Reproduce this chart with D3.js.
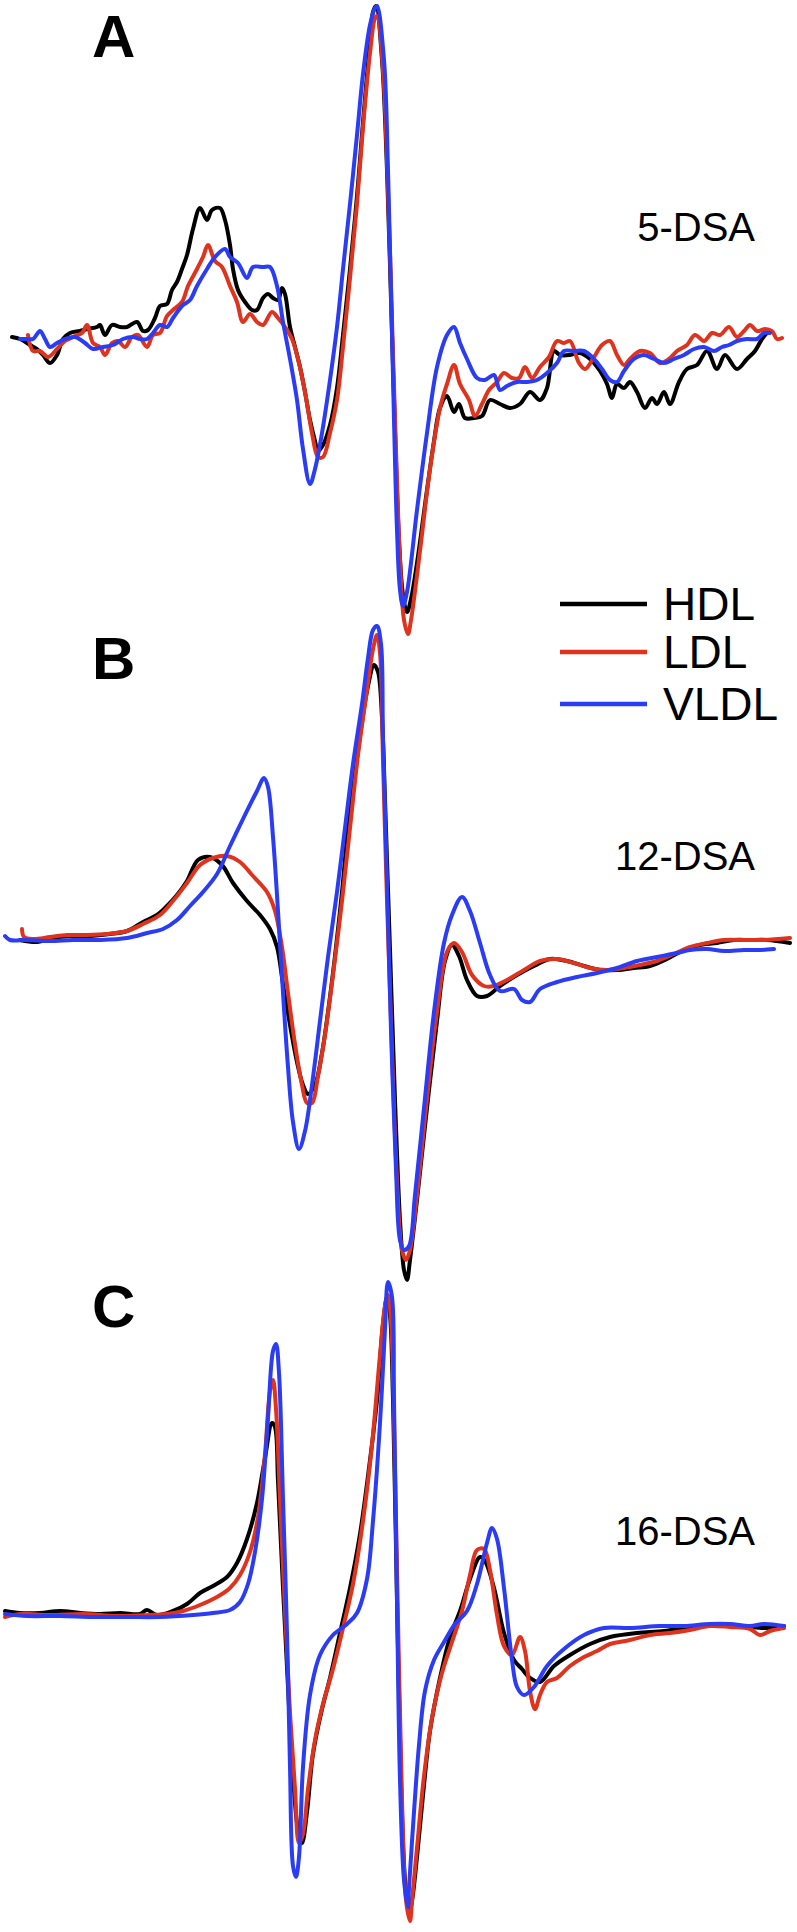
<!DOCTYPE html>
<html>
<head>
<meta charset="utf-8">
<script src="https://cdn.jsdelivr.net/npm/d3@7"></script>
<style>
  body { margin: 0; background: #fff; }
  svg { display: block; }
</style>
</head>
<body>
<div id="chart"></div>
<script>
// EPR spectra, [field channel, amplitude a.u.]
const hdl5 = [[12,0],[20,-2],[30,-8],[37,-12],[43,-18],[50,-26],[57,-18],[63,-2],[70,4],[80,6],[87,8],[97,10],[100,12],[105,2],[112,12],[120,10],[127,10],[137,15],[143,6],[148,7],[155,19],[160,31],[167,33],[172,47],[177,55],[182,68],[187,82],[193,108],[200,129],[207,117],[212,127],[220,129],[225,117],[230,92],[233,68],[238,47],[245,35],[252,27],[257,27],[263,39],[268,43],[273,39],[278,37],[282,49],[285,43],[290,10],[295,-10],[300,-30],[305,-55],[310,-83],[315,-104],[318,-114],[323,-108],[330,-88],[337,-51],[343,2],[350,68],[357,141],[363,215],[370,296],[373,325],[376,331],[382,277],[387,167],[391,37],[395,-93],[399,-203],[403,-258],[407,-275],[411,-262],[417,-226],[427,-153],[434,-104],[440,-71],[447,-59],[454,-75],[459,-67],[465,-81],[474,-81],[482,-79],[490,-63],[500,-67],[510,-71],[520,-67],[530,-55],[540,-63],[547,-51],[554,-14],[560,-18],[570,-18],[580,-16],[590,-22],[600,-34],[607,-47],[612,-61],[617,-47],[624,-51],[630,-45],[637,-55],[645,-71],[652,-61],[657,-67],[664,-55],[670,-67],[679,-45],[687,-32],[697,-28],[707,-14],[717,-32],[725,-18],[737,-32],[747,-22],[755,-14],[762,-2],[767,4]]
const ldl5 = [[28,2],[33,-14],[40,-14],[48,-20],[57,-12],[65,-4],[73,0],[82,4],[87,12],[93,-6],[100,-10],[105,-18],[112,-6],[118,-4],[125,-10],[132,0],[138,2],[147,-10],[153,2],[160,4],[167,21],[173,27],[182,35],[188,51],[197,68],[203,80],[208,92],[215,76],[222,70],[230,51],[237,35],[243,15],[250,23],[257,15],[263,12],[272,25],[278,19],[285,10],[292,-2],[298,-22],[305,-55],[312,-96],[318,-120],[323,-120],[330,-96],[337,-63],[343,-10],[350,59],[357,133],[363,210],[370,284],[375,319],[377,321],[383,267],[388,147],[392,17],[396,-113],[400,-223],[404,-283],[408,-297],[411,-283],[420,-214],[430,-132],[440,-71],[447,-47],[454,-28],[460,-47],[469,-63],[475,-79],[482,-67],[489,-53],[497,-45],[504,-36],[512,-41],[519,-41],[525,-30],[532,-41],[540,-30],[549,-20],[557,-4],[564,-6],[570,-4],[579,-26],[585,-32],[594,-20],[602,-8],[610,-4],[617,-18],[624,-28],[630,-22],[640,-14],[650,-16],[660,-26],[669,-22],[677,-14],[687,-8],[695,2],[704,-4],[712,4],[720,2],[729,10],[737,0],[744,6],[750,12],[757,6],[765,8],[772,6],[777,-2],[782,-1]]
const vldl5 = [[20,-2],[27,-2],[33,-2],[40,6],[45,-2],[50,-10],[57,-6],[65,-2],[75,0],[85,-6],[93,-12],[103,-10],[113,-8],[123,-2],[133,0],[140,-2],[147,-2],[153,4],[160,12],[167,10],[173,19],[182,31],[190,37],[197,51],[207,68],[215,80],[225,88],[230,80],[238,74],[247,59],[253,70],[263,70],[270,70],[277,51],[283,15],[290,-22],[297,-63],[303,-112],[310,-147],[315,-132],[322,-96],[330,-43],[337,10],[343,68],[350,133],[357,202],[363,263],[370,312],[375,329],[377,331],[384,277],[388,167],[391,47],[394,-83],[397,-193],[400,-253],[403,-269],[407,-255],[417,-173],[427,-96],[437,-30],[447,2],[454,10],[460,-6],[467,-22],[477,-41],[485,-43],[494,-38],[500,-53],[507,-49],[517,-45],[527,-45],[537,-43],[547,-36],[557,-26],[564,-14],[574,-14],[584,-14],[594,-22],[602,-32],[610,-43],[617,-45],[624,-34],[634,-22],[644,-18],[654,-22],[664,-26],[674,-22],[684,-18],[694,-12],[704,-10],[714,-14],[722,-10],[729,-8],[737,-4],[747,-2],[757,-2],[764,4],[770,4]]

const hdl12 = [[20,0],[37,-2],[53,2],[70,4],[90,4],[110,6],[127,9],[143,18],[157,25],[167,34],[177,45],[187,59],[198,80],[210,83],[222,75],[233,57],[247,39],[260,25],[270,11],[277,-7],[283,-44],[290,-85],[297,-122],[303,-145],[308,-154],[315,-145],[322,-113],[328,-72],[335,-16],[342,48],[348,112],[355,167],[362,218],[368,254],[374,275],[378,268],[382,222],[385,140],[390,-10],[395,-160],[400,-280],[404,-330],[407,-340],[410,-320],[417,-260],[427,-168],[437,-81],[445,-21],[452,-5],[459,-16],[467,-40],[477,-56],[487,-56],[500,-46],[517,-35],[534,-26],[550,-19],[567,-21],[584,-26],[600,-30],[617,-30],[634,-28],[650,-26],[667,-19],[684,-10],[700,-5],[717,-3],[734,0],[750,0],[767,0],[790,-3]]
const ldl12 = [[22,11],[24,3],[33,1],[50,3],[67,5],[87,5],[107,6],[127,9],[143,16],[160,25],[173,39],[187,57],[200,75],[213,82],[227,84],[240,78],[253,64],[267,48],[275,29],[282,-7],[288,-53],[295,-104],[302,-145],[307,-163],[312,-163],[318,-136],[325,-95],[333,-35],[342,39],[350,112],[358,185],[367,250],[373,291],[377,305],[380,287],[383,180],[387,40],[392,-110],[397,-240],[402,-310],[406,-320],[410,-310],[417,-255],[427,-159],[437,-72],[447,-12],[454,-3],[462,-12],[472,-35],[484,-46],[494,-46],[507,-40],[524,-30],[540,-21],[557,-19],[574,-23],[590,-28],[607,-30],[624,-28],[640,-25],[657,-21],[674,-14],[690,-7],[707,-3],[724,0],[744,0],[764,0],[790,2]]
const vldl12 = [[5,4],[10,0],[27,0],[50,-1],[73,0],[100,0],[127,2],[147,7],[163,11],[177,20],[190,34],[203,48],[217,66],[230,94],[243,121],[257,149],[264,162],[268,153],[273,103],[278,29],[283,-53],[288,-127],[293,-182],[299,-209],[305,-191],[312,-145],[320,-81],[328,-17],[337,48],[345,112],[353,176],[362,236],[368,282],[373,310],[377,314],[381,296],[383,200],[387,60],[391,-90],[396,-230],[400,-300],[404,-310],[409,-306],[415,-255],[424,-168],[434,-72],[444,-3],[452,25],[462,43],[470,29],[480,-3],[490,-35],[500,-51],[514,-49],[522,-60],[530,-62],[540,-49],[557,-42],[577,-37],[597,-33],[617,-28],[637,-21],[657,-17],[677,-13],[690,-10],[707,-9],[724,-11],[744,-10],[760,-10],[774,-9]]

const hdl16 = [[5,4],[20,2],[40,2],[60,4],[80,2],[100,1],[120,2],[140,1],[147,5],[157,0],[173,4],[187,11],[200,22],[213,29],[227,38],[237,52],[247,76],[257,112],[265,157],[272,192],[275,188],[278,134],[283,27],[288,-72],[293,-161],[298,-215],[302,-228],[307,-197],[313,-139],[322,-94],[330,-63],[340,-18],[350,27],[360,81],[368,139],[377,215],[383,291],[387,318],[390,300],[393,215],[397,15],[401,-165],[405,-265],[409,-298],[412,-286],[417,-242],[424,-170],[430,-116],[440,-63],[450,-22],[460,4],[470,36],[480,58],[485,54],[494,27],[504,-18],[514,-45],[522,-54],[530,-63],[540,-67],[554,-51],[570,-40],[590,-29],[610,-22],[637,-18],[664,-16],[690,-12],[717,-10],[744,-11],[764,-13],[784,-11]]
const ldl16 = [[5,-2],[20,1],[50,0],[83,1],[117,-1],[150,0],[167,1],[183,4],[200,10],[217,18],[230,27],[240,40],[250,63],[258,98],[265,161],[270,224],[273,235],[276,206],[280,116],[285,4],[290,-98],[295,-174],[299,-228],[303,-219],[308,-174],[315,-125],[323,-89],[333,-54],[343,-13],[353,31],[363,94],[372,170],[380,260],[385,309],[388,320],[391,295],[394,195],[398,-5],[402,-185],[406,-285],[410,-306],[412,-286],[417,-233],[424,-161],[432,-103],[442,-58],[452,-27],[462,4],[470,40],[477,65],[484,66],[490,45],[497,0],[504,-31],[512,-40],[520,-22],[525,-36],[530,-76],[535,-94],[540,-80],[547,-67],[557,-63],[570,-51],[584,-42],[597,-36],[610,-29],[630,-25],[650,-20],[670,-18],[690,-15],[710,-11],[730,-12],[750,-14],[760,-20],[770,-16],[784,-13]]
const vldl16 = [[5,1],[27,-1],[60,-1],[93,-2],[127,-2],[160,-2],[193,0],[213,2],[230,5],[240,13],[248,31],[255,63],[262,116],[268,197],[273,264],[276,271],[279,242],[283,116],[287,-18],[290,-152],[293,-251],[296,-262],[299,-242],[303,-152],[310,-80],[320,-40],[333,-20],[347,-9],[357,2],[367,36],[373,94],[380,192],[385,286],[388,333],[392,318],[394,215],[397,15],[400,-165],[404,-265],[408,-292],[409,-273],[414,-197],[419,-130],[425,-76],[434,-45],[444,-27],[455,-9],[467,4],[477,31],[487,72],[492,87],[497,76],[504,27],[512,-45],[517,-72],[524,-80],[534,-72],[547,-51],[564,-34],[584,-20],[604,-13],[630,-13],[660,-11],[684,-11],[710,-9],[730,-9],[750,-11],[764,-9],[784,-11]]

const seriesNames = ['HDL', 'LDL', 'VLDL']
const seriesColors = ['#000000', '#e0331d', '#2a3cf6']
const panelLetters = ['A', 'B', 'C']
const probes = ['5-DSA', '12-DSA', '16-DSA']
const spectra = [[hdl5, ldl5, vldl5], [hdl12, ldl12, vldl12], [hdl16, ldl16, vldl16]]

const config = {
    width: 797,
    height: 1932,
    baselines: [337, 940, 1615],
    letterY: [57, 679, 1327],
    probeY: [241, 870, 1545],
    letterX: 92,
    probeRight: 755,
    lineWidth: 4,
}

const svg = d3.select('#chart')
    .append('svg')
    .attr('width', config.width)
    .attr('height', config.height)
    .attr('viewBox', `0 0 ${config.width} ${config.height}`)

const scaleX = d3.scaleLinear()
    .domain([0, 797])
    .range([0, config.width])

const color = d3.scaleOrdinal()
    .domain(seriesNames)
    .range(seriesColors)

spectra.forEach((panel, i) => {
    const base = config.baselines[i]
    const scaleY = d3.scaleLinear()
        .domain([0, 100])
        .range([base, base - 100])

    const line = d3.line()
        .x(d => scaleX(d[0]))
        .y(d => scaleY(d[1]))
        .curve(d3.curveCatmullRom.alpha(0.5))

    const g = svg.append('g')

    g.selectAll('path')
        .data(panel)
        .enter()
        .append('path')
        .attr('d', d => line(d))
        .attr('fill', 'none')
        .attr('stroke', (d, k) => color(seriesNames[k]))
        .attr('stroke-width', config.lineWidth)
        .attr('stroke-linejoin', 'round')
        .attr('stroke-linecap', 'round')

    g.append('text')
        .attr('x', config.letterX)
        .attr('y', config.letterY[i])
        .attr('font-family', '"Liberation Sans", Arial, sans-serif')
        .attr('font-weight', 'bold')
        .attr('font-size', '60px')
        .text(panelLetters[i])

    g.append('text')
        .attr('x', config.probeRight)
        .attr('y', config.probeY[i])
        .attr('text-anchor', 'end')
        .attr('font-family', '"Liberation Sans", Arial, sans-serif')
        .attr('font-size', '40px')
        .text(probes[i])
})

// legend
const legendY = [604, 652, 704]
const legend = svg.append('g')
seriesNames.forEach((name, k) => {
    legend.append('line')
        .attr('x1', 560)
        .attr('x2', 647)
        .attr('y1', legendY[k])
        .attr('y2', legendY[k])
        .attr('stroke', color(name))
        .attr('stroke-width', 4.5)
    legend.append('text')
        .attr('x', 663)
        .attr('y', legendY[k] + 16)
        .attr('font-family', '"Liberation Sans", Arial, sans-serif')
        .attr('font-size', '46px')
        .text(name)
})
</script>
</body>
</html>
